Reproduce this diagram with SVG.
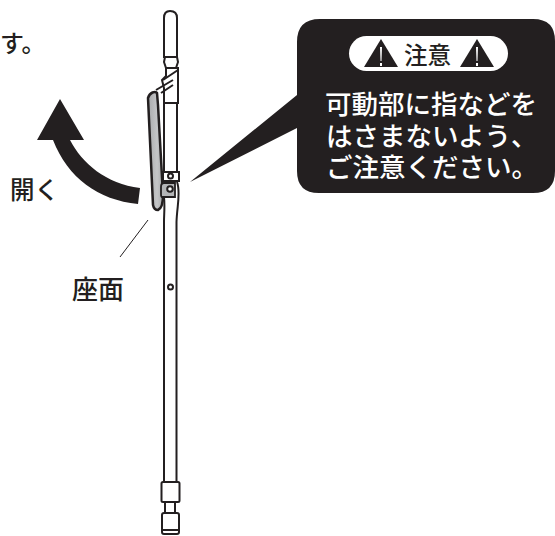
<svg xmlns="http://www.w3.org/2000/svg" width="555" height="536" viewBox="0 0 555 536">
<defs><linearGradient id="seat" x1="0" x2="1" y1="0" y2="0"><stop offset="0" stop-color="#a9aaac"/><stop offset="0.6" stop-color="#c4c5c7"/><stop offset="1" stop-color="#a9aaac"/></linearGradient></defs>
<style>
text{font-family:"Noto Sans CJK JP","Noto Sans",sans-serif;font-weight:500;fill:#231f20}
.c{fill:#fff}
.o{fill:#fff;stroke:#231f20;stroke-width:2}
.l{fill:none;stroke:#231f20;stroke-width:2}
.t{fill:#231f20}
</style>
<g id="caption"><text x="0" y="52" font-size="24">す。</text></g>
<g id="arrow-open"><path class="t" d="M60 99L84 140H70C82 163 106 184 140 188L138 204C98 200 68 178 53 140H37Z"/><text x="10" y="199" font-size="24.5">開く</text></g>
<g id="seat-label"><text x="72" y="299" font-size="26">座面</text></g>
<g id="connectors"><path d="M148 220L120 257" fill="none" stroke="#231f20" stroke-width="1"/></g>
<g id="walker">
<path class="l" d="M164 197C165 206 164 214 164 222V482M177 182C181 192 177 206 176.500 222V482"/>
<path class="o" d="M164 18Q164 11 170 11Q177 11 177 18V57H164Z"/>
<path class="o" d="M165 57H177L178 62L176 68H166L164 62Z"/>
<path class="o" d="M166 68H178V103H164V88L162 80L166 76Z"/>
<path class="l" d="M163 80L178 70"/>
<path class="l" d="M156 90L173 80M161 93L173 85" stroke-width="1.500"/>
<path class="o" d="M164 103H177V172H164Z"/>
<rect class="o" x="163" y="172" width="16" height="9"/>
<circle class="o" cx="170.500" cy="176" r="2.500"/>
<path d="M148 98C150 92 155 91 157 93L158 105L163 195Q163 208 158 210Q154 210 153 205Z" fill="url(#seat)" stroke="#231f20" stroke-width="2.500"/>
<path d="M164 183H175V197H162Q161 197 161 194V187Q161 183 164 183Z" fill="#b4b5b7" stroke="#231f20" stroke-width="1.800"/>
<circle class="o" cx="170" cy="189" r="2.800"/>
<circle class="o" cx="170.500" cy="287" r="2.500"/>
<rect class="o" x="161.500" y="482" width="18" height="20" rx="1.500"/>
<rect class="o" x="165" y="502" width="10" height="11"/>
<path class="o" d="M162 515Q162 513 164 513H177Q179 513 179 515V532Q179 534 177 534H164Q162 534 162 532Z"/>
<path class="l" d="M163 530H178"/>
</g>
<g id="caution">
<path class="t" d="M320 19H533Q555 19 555 41V171Q555 193 533 193H319Q297 193 297 171V128L190 182L297 95V42Q297 19 320 19Z"/>
<rect class="c" x="349" y="36" width="159" height="35" rx="17.500"/>
<path class="t" d="M381 39L398 67H364Z"/>
<path class="t" d="M477 39L494 67H460Z"/>
<path class="c" d="M380 47H382L381.500 61H380.500ZM380 63H382V66H380ZM476 47H478L477.500 61H476.500ZM476 63H478V66H476Z"/>
<text x="404" y="64" font-size="23.500">注意</text>
<text x="325" y="114" font-size="26.500" style="fill:#fff">可動部に指などを</text>
<text x="326" y="146" font-size="26.500" style="fill:#fff">はさまないよう、</text>
<text x="326" y="177" font-size="26.500" style="fill:#fff">ご注意ください。</text>
</g>
</svg>
